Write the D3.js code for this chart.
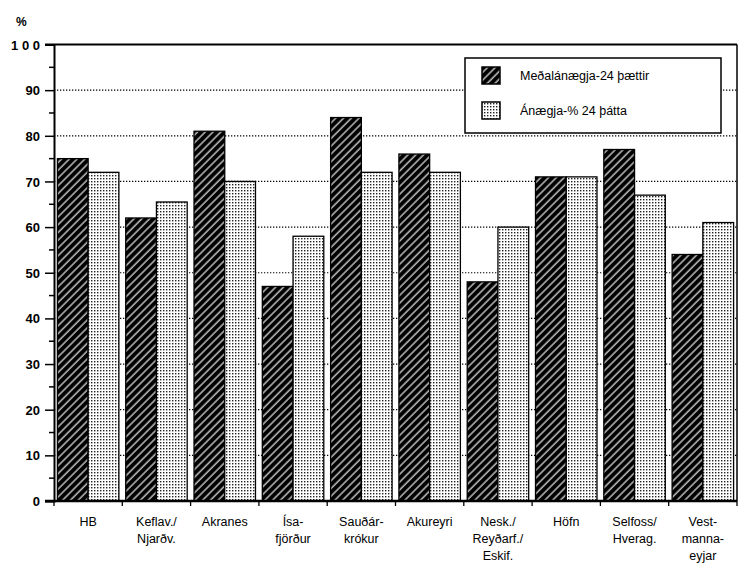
<!DOCTYPE html>
<html><head><meta charset="utf-8">
<script src="https://cdn.jsdelivr.net/npm/d3@7"></script>
<style>body{margin:0;background:#fff}svg{display:block}text{font-family:"Liberation Sans",Arial,sans-serif;fill:#000}</style>
</head><body><div id="chart"></div>
<script>
const categories = ["HB","Keflav./\nNjarðv.","Akranes","Ísa-\nfjörður","Sauðár-\nkrókur","Akureyri","Nesk./\nReyðarf./\nEskif.","Höfn","Selfoss/\nHverag.","Vest-\nmanna-\neyjar"];
const seriesNames = ["Meðalánægja-24 þættir","Ánægja-% 24 þátta"];
const meanSatisfaction = [75,62,81,47,84,76,48,71,77,54];
const satisfactionPct = [72,65.5,70,58,72,72,60,71,67,61];
const yTicks = [0,10,20,30,40,50,60,70,80,90,100];

const W=739,H=573;
const m={left:54,right:2,top:44.5,bottom:72};
const svg=d3.select("#chart").append("svg").attr("width",W).attr("height",H);
const defs=svg.append("defs");
const ph=defs.append("pattern").attr("id","hatch").attr("patternUnits","userSpaceOnUse").attr("width",5.5).attr("height",5.5).attr("patternTransform","rotate(45)");
ph.append("rect").attr("width",5.5).attr("height",5.5).attr("fill","#000");
ph.append("line").attr("x1",2).attr("y1",0).attr("x2",2).attr("y2",5.5).attr("stroke","#b4b4b4").attr("stroke-width",1.6);
const pd=defs.append("pattern").attr("id","dots").attr("patternUnits","userSpaceOnUse").attr("width",3).attr("height",3);
pd.append("rect").attr("width",3).attr("height",3).attr("fill","#fff");
pd.append("rect").attr("x",1).attr("y",1).attr("width",1.4).attr("height",1.4).attr("fill","#222");

const x0=d3.scaleBand().domain(d3.range(categories.length)).range([m.left,W-m.right]).paddingInner(0.1).paddingOuter(0.05);
const x1=d3.scaleBand().domain([0,1]).range([0,x0.bandwidth()]);
const y=d3.scaleLinear().domain([0,100]).range([H-m.bottom,m.top]);
const step=(W-m.right-m.left)/categories.length;

// gridlines
svg.append("g").selectAll("line").data(yTicks.filter(d=>d>0&&d<100)).join("line")
 .attr("x1",m.left).attr("x2",W-m.right).attr("y1",d=>y(d)).attr("y2",d=>y(d))
 .attr("stroke","#000").attr("stroke-width",1.2).attr("stroke-dasharray","1.3,1.7");

// bars
const series=[meanSatisfaction,satisfactionPct];
const g=svg.append("g");
categories.forEach((c,i)=>{
  series.forEach((s,j)=>{
    g.append("rect").attr("x",x0(i)+x1(j)).attr("y",y(s[i])).attr("width",x1.bandwidth()).attr("height",y(0)-y(s[i]))
     .attr("fill",j===0?"url(#hatch)":"url(#dots)").attr("stroke","#000").attr("stroke-width",1.3);
  });
});

// frame: top and right
svg.append("line").attr("x1",45).attr("x2",W-m.right).attr("y1",y(100)).attr("y2",y(100)).attr("stroke","#000").attr("stroke-width",2);
svg.append("line").attr("x1",W-m.right).attr("x2",W-m.right).attr("y1",y(100)).attr("y2",y(0)).attr("stroke","#000").attr("stroke-width",1.5);

// y axis
const ya=svg.append("g").attr("transform",`translate(${m.left},0)`)
 .call(d3.axisLeft(y).tickValues(yTicks).tickSize(9).tickPadding(5).tickFormat(d=>d===100?"1 0 0":d));
ya.select(".domain").attr("stroke-width",2);
ya.selectAll(".tick line").attr("stroke-width",1.5);
ya.selectAll("text").style("font-size","13px").style("font-weight","bold").attr("dy","0.35em");
const minor=d3.range(5,100,10);
svg.append("g").selectAll("line").data(minor).join("line").attr("x1",m.left-5).attr("x2",m.left).attr("y1",d=>y(d)).attr("y2",d=>y(d)).attr("stroke","#000").attr("stroke-width",1.5);
svg.append("text").attr("x",16).attr("y",26).text("%").style("font-size","12px").style("font-weight","bold");

// x axis
svg.append("line").attr("x1",45).attr("x2",W-m.right).attr("y1",y(0)).attr("y2",y(0)).attr("stroke","#000").attr("stroke-width",2.5);
svg.append("g").selectAll("line").data(d3.range(categories.length+1)).join("line")
 .attr("x1",i=>m.left+i*step).attr("x2",i=>m.left+i*step).attr("y1",y(0)).attr("y2",y(0)+5).attr("stroke","#000").attr("stroke-width",1.3);
const xl=svg.append("g");
categories.forEach((c,i)=>{
  const t=xl.append("text").attr("x",x0(i)+x0.bandwidth()/2).attr("y",y(0)+25).attr("text-anchor","middle").style("font-size","12.5px");
  c.split("\n").forEach((ln,k)=>t.append("tspan").attr("x",x0(i)+x0.bandwidth()/2).attr("dy",k===0?0:17).text(ln));
});

// legend
const lg=svg.append("g");
lg.append("rect").attr("x",465).attr("y",58).attr("width",256).attr("height",75).attr("fill","#fff").attr("stroke","#000").attr("stroke-width",1.5);
seriesNames.forEach((n,j)=>{
  lg.append("rect").attr("x",482).attr("y",67+j*35).attr("width",18).attr("height",17).attr("fill",j===0?"url(#hatch)":"url(#dots)").attr("stroke","#000").attr("stroke-width",1.5);
  lg.append("text").attr("x",520).attr("y",80+j*35).text(n).style("font-size","12.5px");
});
</script></body></html>
